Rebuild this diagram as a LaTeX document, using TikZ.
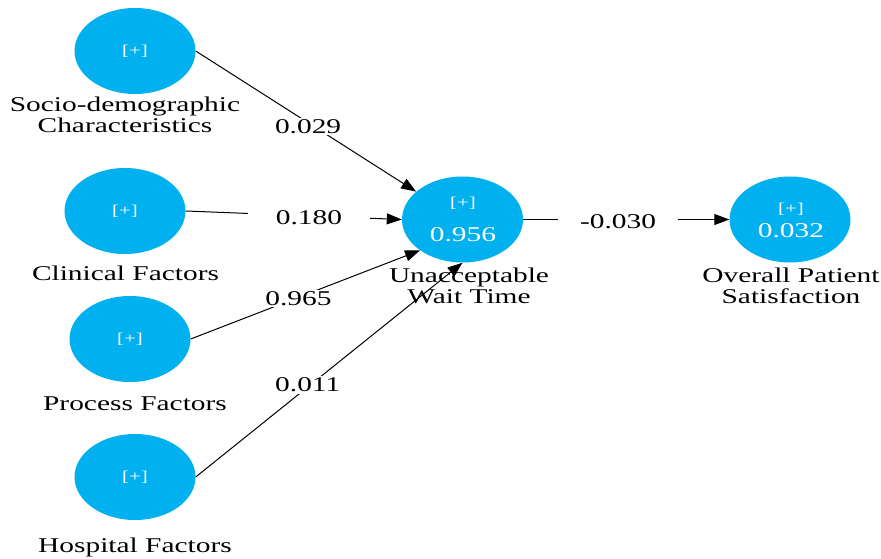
\documentclass[tikz,border=0pt]{standalone}
\usepackage{fontspec}
\setmainfont[FakeStretch=1.4]{Liberation Serif}
\usetikzlibrary{shapes.geometric,arrows.meta}
\definecolor{lvblue}{HTML}{00B0EF}
\begin{document}
\begin{tikzpicture}[x=1pt,y=-1pt,
  lv/.style={ellipse, fill=lvblue, draw=none, minimum width=121pt, minimum height=86pt,
             inner sep=0pt, text=white, font=\fontsize{15}{15}\selectfont},
  plusmark/.style={text=white, inner sep=0pt, anchor=base, font=\fontsize{15}{15}\selectfont},
  rsq/.style={text=white, inner sep=0pt, anchor=base, font=\fontsize{21}{21}\selectfont},
  lbl/.style={font=\fontsize{21}{21}\selectfont, inner sep=0pt, align=center},
  conn/.style={draw=black, line width=1pt, -{Triangle[length=15pt,width=11pt]}},
  coef/.style={font=\fontsize{21}{21}\selectfont, fill=white, inner sep=1.5pt}
]
\useasboundingbox (0,0) rectangle (881,559);

% latent variables
\node[lv] (soc) at (135,51) {[+]};
\node[lv] (cli) at (125,211) {[+]};
\node[lv] (pro) at (130,339) {[+]};
\node[lv] (hos) at (135,477) {[+]};
\node[lv] (uwt) at (462.5,219.5) {};
\node[lv] (ops) at (790,219.5) {};

\node[plusmark] (uwtp) at (463,207) {[+]};
\node[rsq] (uwtr) at (463,241) {0.956};
\node[plusmark] (opsp) at (791,213) {[+]};
\node[rsq] (opsr) at (791,237) {0.032};

% labels
\node[lbl, anchor=north] (socl) at (125,96.7) {Socio-demographic\\Characteristics};
\node[lbl, anchor=base] (clil) at (125.5,280) {Clinical Factors};
\node[lbl, anchor=base] (prol) at (135,410) {Process Factors};
\node[lbl, anchor=base] (hosl) at (135,552) {Hospital Factors};
\node[lbl, anchor=north] (uwtl) at (469,267.7) {Unacceptable\\Wait Time};
\node[lbl, anchor=north] (opsl) at (791,267.7) {Overall Patient\\Satisfaction};

% paths
\draw[conn] (soc.east) -- node[coef, pos=0.51, yshift=-4pt] {0.029} (uwt.149);
\draw[conn] (cli.east) -- node[coef, pos=0.57, yshift=-2pt, inner xsep=28pt] {0.180} (uwt.west);
\draw[conn] (pro.east) -- node[coef, pos=0.47, yshift=-1pt] {0.965} (uwt.216);
\draw[conn] (hos.east) -- node[coef, pos=0.42, yshift=2pt] {0.011} (uwt.south);
\draw[conn] (uwt.east) -- node[coef, pos=0.46, yshift=-2pt, inner xsep=22pt] {-0.030} (ops.west);
\end{tikzpicture}
\end{document}
